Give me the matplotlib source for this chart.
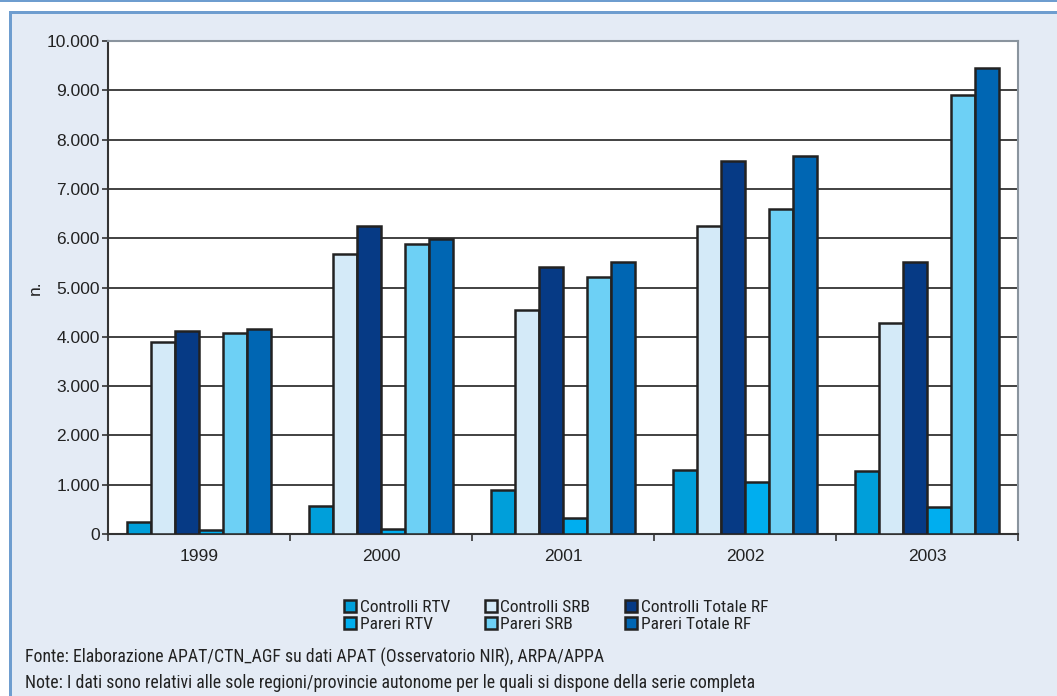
import matplotlib.pyplot as plt
import numpy as np
from matplotlib.patches import Rectangle
from matplotlib.ticker import FuncFormatter, MultipleLocator

YEARS = ["1999", "2000", "2001", "2002", "2003"]
SERIES = [
    "Controlli RTV",
    "Controlli SRB",
    "Controlli Totale RF",
    "Pareri RTV",
    "Pareri SRB",
    "Pareri Totale RF",
]
CONTROLLI_RTV = [240, 570, 890, 1300, 1280]
CONTROLLI_SRB = [3890, 5680, 4540, 6250, 4270]
CONTROLLI_TOT = [4120, 6240, 5410, 7560, 5520]
PARERI_RTV = [90, 100, 320, 1060, 550]
PARERI_SRB = [4080, 5880, 5210, 6590, 8900]
PARERI_TOT = [4160, 5980, 5510, 7660, 9450]
COLORS = ["#009FDA", "#D4EAF8", "#063A85", "#00AEEF", "#6DD0F5", "#0066B3"]

BG = "#E4EBF5"
BORDER = "#6E9DCF"
NARROW = ["Roboto Condensed", "DejaVu Sans"]
REGULAR = ["Liberation Sans", "DejaVu Sans"]

values = [CONTROLLI_RTV, CONTROLLI_SRB, CONTROLLI_TOT, PARERI_RTV, PARERI_SRB, PARERI_TOT]

fig = plt.figure(figsize=(10.57, 6.96), dpi=100, facecolor="white")
W, H = 1057, 696
# blue frame around the chart box
fig.patches.append(Rectangle((0, 1 - 2 / H), 1, 2 / H, transform=fig.transFigure,
                             facecolor=BORDER, edgecolor="none", zorder=0))
fig.patches.append(Rectangle((9 / W, 0), 1 - 9 / W, 1 - 11 / H, transform=fig.transFigure,
                             facecolor=BG, edgecolor="none", zorder=0))
fig.patches.append(Rectangle((9 / W, 1 - 14 / H), 1 - 9 / W, 3 / H, transform=fig.transFigure,
                             facecolor=BORDER, edgecolor="none", zorder=0.5))
fig.patches.append(Rectangle((9 / W, 0), 3 / W, 1 - 11 / H, transform=fig.transFigure,
                             facecolor=BORDER, edgecolor="none", zorder=0.5))

ax = fig.add_axes([108 / W, 1 - 534 / H, 910 / W, 493 / H])
ax.set_zorder(2)
ax.set_facecolor("white")

x = np.arange(len(YEARS))
width = 0.132
handles = []
for i, (name, vals, col) in enumerate(zip(SERIES, values, COLORS)):
    offset = (i - 2.5) * width
    b = ax.bar(x + offset, vals, width=width, color=col, edgecolor="#222222",
               linewidth=1.8, label=name, zorder=3)
    handles.append(b)

ax.set_xlim(-0.5, len(YEARS) - 0.5)
ax.set_ylim(0, 10000)
ax.yaxis.set_major_locator(MultipleLocator(1000))
ax.yaxis.set_major_formatter(FuncFormatter(lambda v, p: f"{int(v):,}".replace(",", ".")))
ax.grid(axis="y", color="#333333", linewidth=1.3, zorder=1)
ax.set_xticks(x)
ax.set_xticklabels(YEARS)
ax.set_xticks(np.arange(-0.5, len(YEARS)), minor=True)
ax.tick_params(axis="x", which="major", length=0, pad=11, labelsize=12.5, labelcolor="#222222")
ax.tick_params(axis="x", which="minor", length=5, width=1.2, color="#333333")
ax.tick_params(axis="y", length=4, width=1.2, color="#333333", labelsize=12.5,
               labelcolor="#222222", pad=2)
for lab in ax.get_xticklabels() + ax.get_yticklabels():
    lab.set_family(REGULAR)
for s in ["top", "right"]:
    ax.spines[s].set_color("#8A949E")
    ax.spines[s].set_linewidth(1.5)
for s in ["left", "bottom"]:
    ax.spines[s].set_color("#333333")
    ax.spines[s].set_linewidth(1.5)
ax.set_ylabel("n.", fontsize=12.5, color="#222222", family=REGULAR)
ax.yaxis.set_label_coords(-65 / 910, 0.5)

order = [0, 3, 1, 4, 2, 5]
leg = fig.legend([handles[i] for i in order], [SERIES[i] for i in order],
                 loc="center", bbox_to_anchor=(556 / W, 1 - 616 / H), ncol=3,
                 frameon=False, prop={"family": NARROW, "size": 12.5},
                 handlelength=0.7, handleheight=0.7, handletextpad=0.2,
                 columnspacing=2.0, labelspacing=0.1, borderpad=0)
for t in leg.get_texts():
    t.set_color("#222222")

fig.text(25 / W, 1 - 657 / H,
         "Fonte: Elaborazione APAT/CTN_AGF su dati APAT (Osservatorio NIR), ARPA/APPA",
         family=NARROW, fontsize=12.8, color="#222222", va="center")
fig.text(25 / W, 1 - 683 / H,
         "Note: I dati sono relativi alle sole regioni/provincie autonome per le quali si dispone della serie completa",
         family=NARROW, fontsize=12.8, color="#222222", va="center")

fig.savefig("out.png", dpi=100, facecolor=fig.get_facecolor())
